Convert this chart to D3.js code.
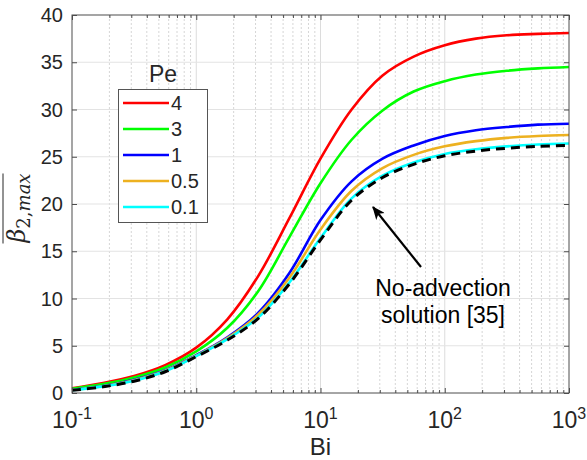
<!DOCTYPE html>
<html>
<head>
<meta charset="utf-8">
<script src="https://cdn.jsdelivr.net/npm/d3@7"></script>
<style>
  html, body { margin: 0; padding: 0; background: #fff; }
  svg { display: block; }
  text { font-family: Arial, "Liberation Sans", Helvetica, sans-serif; fill: #262626; }
</style>
</head>
<body>
<svg id="chart" width="587" height="460"></svg>
<script>
// Biot numbers sampled along each curve (quarter-decade steps)
const bi = [0.1, 0.178, 0.316, 0.562, 1, 1.78, 3.16, 5.62, 10, 17.8, 31.6, 56.2, 100, 178, 316, 562, 1000];

// Maximum dimensionless beta_2 for each Péclet number
const pe4   = [0.5, 1.05, 1.8, 2.95, 4.8, 7.8, 12.4, 18.5, 24.8, 30.0, 33.6, 35.6, 36.8, 37.5, 37.85, 38.0, 38.1];
const pe3   = [0.45, 0.95, 1.65, 2.7, 4.4, 6.9, 10.8, 16.5, 22.2, 26.8, 29.9, 31.9, 33.0, 33.7, 34.1, 34.35, 34.5];
const pe1   = [0.35, 0.75, 1.4, 2.4, 4.0, 5.9, 8.5, 12.7, 18.3, 22.4, 24.8, 26.2, 27.2, 27.8, 28.15, 28.4, 28.5];
const pe05  = [0.33, 0.72, 1.35, 2.35, 3.95, 5.8, 8.3, 12.2, 17.3, 21.4, 23.8, 25.2, 26.1, 26.65, 27.0, 27.2, 27.3];
const pe01  = [0.3, 0.7, 1.3, 2.3, 3.9, 5.7, 8.0, 11.7, 16.4, 20.6, 23.0, 24.4, 25.3, 25.8, 26.1, 26.3, 26.4];
// Reference solution without advection
const noAdv = [0.28, 0.66, 1.25, 2.25, 3.85, 5.6, 7.9, 11.55, 16.2, 20.4, 22.8, 24.2, 25.1, 25.6, 25.9, 26.1, 26.2];

const seriesNames  = ["4", "3", "1", "0.5", "0.1"];
const seriesValues = [pe4, pe3, pe1, pe05, pe01];
const seriesColors = ["#ff0000", "#00ff00", "#0000ff", "#edb120", "#00ffff"];

const xTickValues = [0.1, 1, 10, 100, 1000];
const xTickExps   = ["-1", "0", "1", "2", "3"];
const yTickValues = [0, 5, 10, 15, 20, 25, 30, 35, 40];

const svg = d3.select("#chart");
const plot = { left: 72, right: 569, top: 15, bottom: 393 };

const x = d3.scaleLog().domain([0.1, 1000]).range([plot.left, plot.right]);
const y = d3.scaleLinear().domain([0, 40]).range([plot.bottom, plot.top]);

// grid: minor (dotted) vertical lines for each decade
const minor = [];
[0.1, 1, 10, 100].forEach(d => { for (let k = 2; k <= 9; k++) minor.push(d * k); });
const grid = svg.append("g");
grid.selectAll("line.minor").data(minor).join("line")
  .attr("x1", d => x(d)).attr("x2", d => x(d))
  .attr("y1", plot.top).attr("y2", plot.bottom)
  .attr("stroke", "#d6d6d6").attr("stroke-width", 1).attr("stroke-dasharray", "2,2");
grid.selectAll("line.vmaj").data(xTickValues.slice(1, -1)).join("line")
  .attr("x1", d => x(d)).attr("x2", d => x(d))
  .attr("y1", plot.top).attr("y2", plot.bottom)
  .attr("stroke", "#dcdcdc").attr("stroke-width", 1);
grid.selectAll("line.hmaj").data(yTickValues.slice(1, -1)).join("line")
  .attr("x1", plot.left).attr("x2", plot.right)
  .attr("y1", d => y(d)).attr("y2", d => y(d))
  .attr("stroke", "#e3e3e3").attr("stroke-width", 1);

// curves
const line = d3.line().x(d => x(d[0])).y(d => y(d[1])).curve(d3.curveCatmullRom.alpha(0.5));
const curves = svg.append("g").attr("fill", "none");
seriesValues.forEach((vals, i) => {
  curves.append("path")
    .datum(bi.map((b, j) => [b, vals[j]]))
    .attr("d", line)
    .attr("stroke", seriesColors[i])
    .attr("stroke-width", 2.6);
});
curves.append("path")
  .datum(bi.map((b, j) => [b, noAdv[j]]))
  .attr("d", line)
  .attr("stroke", "#000")
  .attr("stroke-width", 3)
  .attr("stroke-dasharray", "9,6");

// axes (box with inward ticks)
const axisColor = "#4d4d4d";
const axes = svg.append("g");
axes.append("rect")
  .attr("x", plot.left).attr("y", plot.top)
  .attr("width", plot.right - plot.left).attr("height", plot.bottom - plot.top)
  .attr("fill", "none").attr("stroke", axisColor).attr("stroke-width", 1);

const bottomAxis = d3.axisBottom(x).tickValues(xTickValues).tickSize(-5).tickFormat("");
const topAxis = d3.axisTop(x).tickValues(xTickValues).tickSize(-5).tickFormat("");
const leftAxis = d3.axisLeft(y).tickValues(yTickValues).tickSize(-5).tickFormat("");
const rightAxis = d3.axisRight(y).tickValues(yTickValues).tickSize(-5).tickFormat("");
const minorBottom = d3.axisBottom(x).tickValues(minor).tickSize(-3).tickFormat("");
const minorTop = d3.axisTop(x).tickValues(minor).tickSize(-3).tickFormat("");

function styleAxis(g) {
  g.select(".domain").remove();
  g.selectAll("line").attr("stroke", axisColor);
}
axes.append("g").attr("transform", `translate(0,${plot.bottom})`).call(bottomAxis).call(styleAxis);
axes.append("g").attr("transform", `translate(0,${plot.top})`).call(topAxis).call(styleAxis);
axes.append("g").attr("transform", `translate(0,${plot.bottom})`).call(minorBottom).call(styleAxis);
axes.append("g").attr("transform", `translate(0,${plot.top})`).call(minorTop).call(styleAxis);
axes.append("g").attr("transform", `translate(${plot.left},0)`).call(leftAxis).call(styleAxis);
axes.append("g").attr("transform", `translate(${plot.right},0)`).call(rightAxis).call(styleAxis);

// y tick labels
svg.append("g").selectAll("text").data(yTickValues).join("text")
  .attr("x", plot.left - 9).attr("y", d => y(d)).attr("dy", "0.36em")
  .attr("text-anchor", "end").attr("font-size", 20)
  .text(d => d);

// x tick labels as powers of ten
const xl = svg.append("g").selectAll("text").data(xTickValues).join("text")
  .attr("x", d => x(d)).attr("y", 428)
  .attr("text-anchor", "middle").attr("font-size", 23);
xl.append("tspan").text("10");
xl.append("tspan").attr("dy", -9).attr("font-size", 16).text((d, i) => xTickExps[i]);

// axis titles
svg.append("text").attr("x", (plot.left + plot.right) / 2).attr("y", 455)
  .attr("text-anchor", "middle").attr("font-size", 24).text("Bi");

const yTitle = svg.append("g").attr("transform", "translate(25,208) rotate(-90)");
const yt = yTitle.append("text")
  .attr("text-anchor", "middle")
  .style("font-family", "'DejaVu Serif', 'Liberation Serif', serif")
  .attr("font-size", 24);
yt.append("tspan").attr("font-style", "italic").text("β");
yt.append("tspan").attr("font-size", 18).attr("dy", 5).text("2");
yt.append("tspan").attr("font-size", 18).text(",");
yt.append("tspan").attr("font-size", 18).attr("font-style", "italic").text("max");
const yb = yt.node().getBBox();
yTitle.append("line")
  .attr("x1", yb.x).attr("x2", yb.x + yb.width)
  .attr("y1", yb.y).attr("y2", yb.y)
  .attr("stroke", "#262626").attr("stroke-width", 1);

// legend
const legend = svg.append("g");
legend.append("text").attr("x", 163).attr("y", 82)
  .attr("text-anchor", "middle").attr("font-size", 23).text("Pe");
legend.append("rect").attr("x", 118.5).attr("y", 89.5).attr("width", 89).attr("height", 133)
  .attr("fill", "#fff").attr("stroke", "#555").attr("stroke-width", 1);
const rows = legend.selectAll("g.row").data(seriesNames).join("g")
  .attr("transform", (d, i) => `translate(0,${103 + i * 26})`);
rows.append("line").attr("x1", 123).attr("x2", 169).attr("y1", 0).attr("y2", 0)
  .attr("stroke", (d, i) => seriesColors[i]).attr("stroke-width", 2.6);
rows.append("text").attr("x", 171).attr("y", 0).attr("dy", "0.36em")
  .attr("font-size", 20).text(d => d);

// annotation pointing at the no-advection curve
const defs = svg.append("defs");
defs.append("marker").attr("id", "arrowhead")
  .attr("viewBox", "0 0 12 10").attr("refX", 11).attr("refY", 5)
  .attr("markerUnits", "userSpaceOnUse")
  .attr("markerWidth", 14).attr("markerHeight", 11).attr("orient", "auto")
  .append("path").attr("d", "M0,0 L12,5 L0,10 L3,5 z").attr("fill", "#000");
svg.append("line")
  .attr("x1", 421).attr("y1", 267).attr("x2", 373).attr("y2", 207)
  .attr("stroke", "#000").attr("stroke-width", 2.2)
  .attr("marker-end", "url(#arrowhead)");
const note = svg.append("text").attr("text-anchor", "middle").attr("font-size", 23).style("fill", "#000");
note.append("tspan").attr("x", 443).attr("y", 296).text("No-advection");
note.append("tspan").attr("x", 443).attr("y", 323).text("solution [35]");
</script>
</body>
</html>
